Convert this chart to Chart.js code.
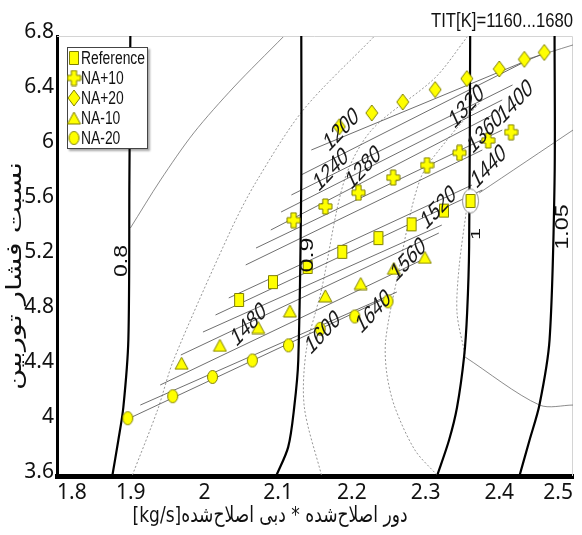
<!DOCTYPE html>
<html>
<head>
<meta charset="utf-8">
<script src="https://cdn.jsdelivr.net/npm/chart.js@4.4.1/dist/chart.umd.min.js"></script>
<style>
html, body { margin: 0; padding: 0; background: #fff; }
canvas { display: block; }
</style>
</head>
<body>
<canvas id="mapChart" width="582" height="535"></canvas>
<script>
// operating points, one array per coordinate
const seriesNames = ['Reference', 'NA+10', 'NA+20', 'NA-10', 'NA-20'];
const refX  = [2.047, 2.093, 2.140, 2.187, 2.236, 2.281, 2.325, 2.361];
const refY  = [4.88, 5.01, 5.12, 5.23, 5.33, 5.43, 5.53, 5.60];
const na10X = [2.121, 2.164, 2.209, 2.256, 2.302, 2.346, 2.385, 2.416];
const na10Y = [5.46, 5.56, 5.66, 5.77, 5.86, 5.95, 6.04, 6.10];
const na20X = [2.183, 2.227, 2.269, 2.313, 2.356, 2.400, 2.434, 2.461];
const na20Y = [6.14, 6.24, 6.32, 6.41, 6.49, 6.56, 6.63, 6.68];
const nm10X = [1.969, 2.021, 2.073, 2.116, 2.164, 2.212, 2.257, 2.299];
const nm10Y = [4.42, 4.55, 4.68, 4.80, 4.91, 5.00, 5.11, 5.19];
const nm20X = [1.896, 1.957, 2.011, 2.065, 2.114, 2.157, 2.204, 2.249];
const nm20Y = [4.02, 4.18, 4.32, 4.44, 4.55, 4.67, 4.76, 4.87];

// corrected speed lines [x, y]
const speedNames = ['0.8', '0.9', '1', '1.05'];
const speed08  = [[1.8995, 6.8], [1.8982, 5.75], [1.8968, 4.59], [1.890, 4.10], [1.8832, 3.86], [1.875, 3.6]];
const speed09  = [[2.1314, 6.8], [2.1314, 5.75], [2.1273, 4.44], [2.1218, 4.10], [2.1136, 3.81], [2.0973, 3.6]];
const speed10  = [[2.3605, 6.8], [2.3591, 5.27], [2.3564, 4.79], [2.3523, 4.47], [2.3427, 4.10], [2.3318, 3.86], [2.3155, 3.6]];
const speed105 = [[2.475, 6.8], [2.475, 5.75], [2.4682, 4.59], [2.4546, 4.12], [2.441, 3.86], [2.4273, 3.6]];
const speedLabelPos = [[1.888, 5.164], [2.141, 5.207], [2.3687, 5.36], [2.487, 5.411]];

// turbine inlet temperature lines, start and end of each
const titLevels = [1160, 1200, 1240, 1280, 1320, 1360, 1400, 1440, 1480, 1520, 1560, 1600, 1640, 1680];
const titStartX = [2.145, 2.131, 2.118, 2.104, 2.090, 2.070, 2.056, 2.033, 2.015, 1.998, 1.968, 1.940, 1.913, 1.893];
const titStartY = [5.971, 5.789, 5.644, 5.520, 5.389, 5.258, 5.135, 4.895, 4.771, 4.647, 4.480, 4.262, 4.116, 4.007];
const titEndX   = [2.4655, 2.434, 2.418, 2.404, 2.3905, 2.404, 2.377, 2.363, 2.377, 2.322, 2.318, 2.295, 2.261, 2.2405];
const titEndY   = [6.684, 6.611, 6.444, 6.335, 6.225, 6.116, 5.971, 5.716, 5.680, 5.425, 5.367, 5.171, 4.938, 4.880];
const titLabels = ['1200', '1240', '1280', '1320', '1360', '1400', '1440', '1480', '1520', '1560', '1600', '1640'];
const titLabelX = [2.186, 2.172, 2.216, 2.356, 2.381, 2.422, 2.386, 2.0605, 2.318, 2.277, 2.161, 2.2296];
const titLabelY = [6.116, 5.825, 5.840, 6.284, 6.102, 6.320, 5.847, 4.698, 5.549, 5.171, 4.640, 4.793];

// efficiency / limit curves
const curveA = [[2.1068, 6.793], [2.04, 6.429], [1.9855, 6.095], [1.9405, 5.753], [1.8996, 5.404]];
const curveB = [[1.9023, 3.607], [1.9364, 4.08], [1.9582, 4.444], [2.0359, 5.389], [2.07, 5.738], [2.1341, 6.262], [2.2296, 6.793]];
const curveC = [[2.1587, 3.607], [2.1355, 4.102], [2.1382, 4.516], [2.1587, 4.953], [2.19, 5.753], [2.2268, 6.116], [2.3127, 6.495], [2.3564, 6.793]];
const curveD = [[2.3155, 3.607], [2.2855, 3.789], [2.2582, 4.102], [2.2473, 4.349], [2.2459, 4.589], [2.2609, 5.025], [2.2923, 5.753], [2.3291, 6.044], [2.3768, 6.335]];
const curveE = [[2.3564, 5.571], [2.3455, 5.12], [2.3427, 4.785], [2.3537, 4.48]];
const limitLine = [[2.3537, 4.465], [2.4546, 4.116], [2.5, 4.116]];
const curveF = [[2.3727, 5.658], [2.5, 6.116]];
const curveG = [[2.434, 6.625], [2.5, 6.735]];

const xTicks = [1.8, 1.9, 2, 2.1, 2.2, 2.3, 2.4, 2.5];
const yTicks = [3.6, 4, 4.4, 4.8, 5.2, 5.6, 6, 6.4, 6.8];

const tickFamily = '"Noto Sans", "DejaVu Sans Condensed", sans-serif';

function marker(shape, w, h, fill, stroke) {
    const c = document.createElement('canvas');
    c.width = w + 2; c.height = h + 2;
    const g = c.getContext('2d');
    g.fillStyle = fill || '#ffff00';
    g.strokeStyle = stroke || '#7f7f00';
    g.lineWidth = 1;
    const cx = c.width / 2, cy = c.height / 2;
    g.beginPath();
    if (shape === 'rect') {
        g.rect(1.5, 1.5, w - 1, h - 1);
    } else if (shape === 'ellipse') {
        g.ellipse(cx, cy, w / 2 - 0.5, h / 2 - 0.5, 0, 0, Math.PI * 2);
    } else if (shape === 'diamond') {
        g.moveTo(cx, 1); g.lineTo(w + 1, cy); g.lineTo(cx, h + 1); g.lineTo(1, cy); g.closePath();
    } else if (shape === 'triangle') {
        g.moveTo(cx, 1); g.lineTo(w + 1, h + 1); g.lineTo(1, h + 1); g.closePath();
    } else if (shape === 'cross') {
        const t = 2.6;
        g.moveTo(cx - t, 1); g.lineTo(cx + t, 1); g.lineTo(cx + t, cy - t); g.lineTo(w + 1, cy - t);
        g.lineTo(w + 1, cy + t); g.lineTo(cx + t, cy + t); g.lineTo(cx + t, h + 1); g.lineTo(cx - t, h + 1);
        g.lineTo(cx - t, cy + t); g.lineTo(1, cy + t); g.lineTo(1, cy - t); g.lineTo(cx - t, cy - t); g.closePath();
    }
    g.fill(); g.stroke();
    return c;
}

const markerImgs = [
    marker('rect', 10, 14),
    marker('cross', 13, 15),
    marker('diamond', 12, 16),
    marker('triangle', 13, 12),
    marker('ellipse', 11, 14)
];
const ringImg = marker('ellipse', 17, 25, '#ffffff', '#8c8c8c');

const pts = (xa, ya) => xa.map((x, i) => ({ x: x, y: ya[i] }));
const pairs = arr => arr.map(p => ({ x: p[0], y: p[1] }));

const datasets = [];
const seriesXY = [[refX, refY], [na10X, na10Y], [na20X, na20Y], [nm10X, nm10Y], [nm20X, nm20Y]];
seriesXY.forEach((s, i) => {
    datasets.push({
        label: seriesNames[i], data: pts(s[0], s[1]),
        pointStyle: markerImgs[i], pointRadius: 6, showLine: false, order: 0
    });
});
datasets.push({ label: 'ring', data: [{ x: refX[7], y: refY[7] }], pointStyle: ringImg, pointRadius: 8, showLine: false, order: 1 });

[speed08, speed09, speed10, speed105].forEach((s, i) => {
    datasets.push({
        label: 'N ' + speedNames[i], data: pairs(s), showLine: true, pointRadius: 0,
        borderColor: '#000', borderWidth: 2.2, tension: 0.3, order: 2
    });
});

titLevels.forEach((t, i) => {
    datasets.push({
        label: 'TIT ' + t, data: [{ x: titStartX[i], y: titStartY[i] }, { x: titEndX[i], y: titEndY[i] }],
        showLine: true, pointRadius: 0, borderColor: '#4a4a4a', borderWidth: 0.8, order: 3
    });
});

[curveA, curveF, curveG, limitLine].forEach(c => {
    datasets.push({ data: pairs(c), showLine: true, pointRadius: 0, borderColor: '#6e6e6e', borderWidth: 0.8, tension: 0.3, order: 4 });
});
[curveB, curveC, curveD, curveE].forEach(c => {
    datasets.push({ data: pairs(c), showLine: true, pointRadius: 0, borderColor: '#8a8a8a', borderWidth: 0.9, borderDash: [2, 2], tension: 0.3, order: 4 });
});

// text squeezed or stretched along its baseline to a given length
function textAlong(ctx, text, x, y, angle, len, font, dir, align) {
    ctx.save();
    ctx.font = font;
    ctx.direction = dir || 'ltr';
    const w = ctx.measureText(text).width;
    ctx.translate(x, y);
    ctx.rotate(angle);
    ctx.scale(len / w, 1);
    ctx.textAlign = align || 'center';
    ctx.textBaseline = 'middle';
    ctx.fillStyle = '#111';
    ctx.fillText(text, 0, 0);
    ctx.restore();
}

const overlay = {
    id: 'overlay',
    beforeDatasetsDraw(chart) {
        const ctx = chart.ctx, a = chart.chartArea;
        ctx.save();
        ctx.strokeStyle = '#d4d4d4';
        ctx.lineWidth = 1;
        ctx.beginPath();
        ctx.moveTo(a.left, a.top + 0.5);
        ctx.lineTo(a.right - 0.5, a.top + 0.5);
        ctx.lineTo(a.right - 0.5, a.bottom);
        ctx.stroke();
        ctx.restore();
    },
    afterDraw(chart) {
        const ctx = chart.ctx;
        const xs = chart.scales.x, ys = chart.scales.y;

        // temperature labels, slanted along the lines
        titLabels.forEach((t, i) => {
            ctx.save();
            ctx.font = '26px "Liberation Sans", sans-serif';
            ctx.translate(xs.getPixelForValue(titLabelX[i]), ys.getPixelForValue(titLabelY[i]));
            ctx.scale(0.65, 1);
            ctx.rotate(-35 * Math.PI / 180);
            ctx.textAlign = 'center';
            ctx.textBaseline = 'middle';
            ctx.fillStyle = '#1a1a1a';
            ctx.fillText(t, 0, 0);
            ctx.restore();
        });

        // speed line labels
        const speedLen = [32, 35, 12, 45];
        speedNames.forEach((s, i) => {
            textAlong(ctx, s, xs.getPixelForValue(speedLabelPos[i][0]), ys.getPixelForValue(speedLabelPos[i][1]),
                -Math.PI / 2, speedLen[i], (i === 2 ? 13 : 18) + 'px "Liberation Sans", sans-serif');
        });

        // header
        textAlong(ctx, 'TIT[K]=1160...1680', 573, 21, 0, 142, '21px "Liberation Sans", sans-serif', 'ltr', 'right');

        // axis titles
        textAlong(ctx, 'دور اصلاح‌شده * دبی اصلاح‌شده[kg/s]', 270, 516, 0, 275, '22px "DejaVu Sans", sans-serif', 'rtl');
        textAlong(ctx, 'نسبت فشار توربین', 16, 276, -Math.PI / 2, 228, '21px "DejaVu Sans", sans-serif', 'rtl');

        // legend box
        ctx.save();
        ctx.shadowColor = 'rgba(0,0,0,0.35)';
        ctx.shadowOffsetX = 2; ctx.shadowOffsetY = 2; ctx.shadowBlur = 2;
        ctx.fillStyle = '#fff';
        ctx.fillRect(67, 47, 81, 102);
        ctx.restore();
        ctx.save();
        ctx.strokeStyle = '#444';
        ctx.lineWidth = 1;
        ctx.strokeRect(67.5, 47.5, 80, 101);
        ctx.font = '18px "Liberation Sans", sans-serif';
        const sx = 64 / ctx.measureText('Reference').width;
        seriesNames.forEach((n, i) => {
            const y = 58 + i * 20;
            const img = markerImgs[i];
            ctx.drawImage(img, 74 - img.width / 2, y - img.height / 2);
            ctx.save();
            ctx.translate(81, y + 1);
            ctx.scale(sx, 1);
            ctx.fillStyle = '#111';
            ctx.textBaseline = 'middle';
            ctx.fillText(n, 0, 0);
            ctx.restore();
        });
        ctx.restore();
    }
};

new Chart(document.getElementById('mapChart'), {
    type: 'scatter',
    data: { datasets: datasets },
    options: {
        responsive: false,
        animation: false,
        devicePixelRatio: 1,
        layout: { padding: { left: 0, right: 9, top: 36, bottom: 0 } },
        plugins: { legend: { display: false }, tooltip: { enabled: false } },
        scales: {
            x: {
                type: 'linear', min: 1.8, max: 2.5,
                afterBuildTicks: s => { s.ticks = xTicks.map(v => ({ value: v })); },
                afterFit: s => { s.height = 59; s.paddingLeft = 0; s.paddingRight = 0; },
                grid: { display: false, drawTicks: false },
                border: { display: true, color: '#000', width: 5 },
                ticks: { color: '#111', padding: 4, align: 'inner', maxRotation: 0, autoSkip: false,
                         font: { family: tickFamily, size: 21, weight: 'condensed' }, callback: v => String(v) }
            },
            y: {
                type: 'linear', min: 3.6, max: 6.8,
                afterBuildTicks: s => { s.ticks = yTicks.map(v => ({ value: v })); },
                afterFit: s => { s.width = 57; s.paddingTop = 0; s.paddingBottom = 0; },
                grid: { display: false, drawTicks: false },
                border: { display: true, color: '#000', width: 3 },
                ticks: { color: '#111', padding: 3, labelOffset: -4, autoSkip: false,
                         font: { family: tickFamily, size: 21, weight: 'condensed' }, callback: v => String(v) }
            }
        }
    },
    plugins: [overlay]
});
</script>
</body>
</html>
